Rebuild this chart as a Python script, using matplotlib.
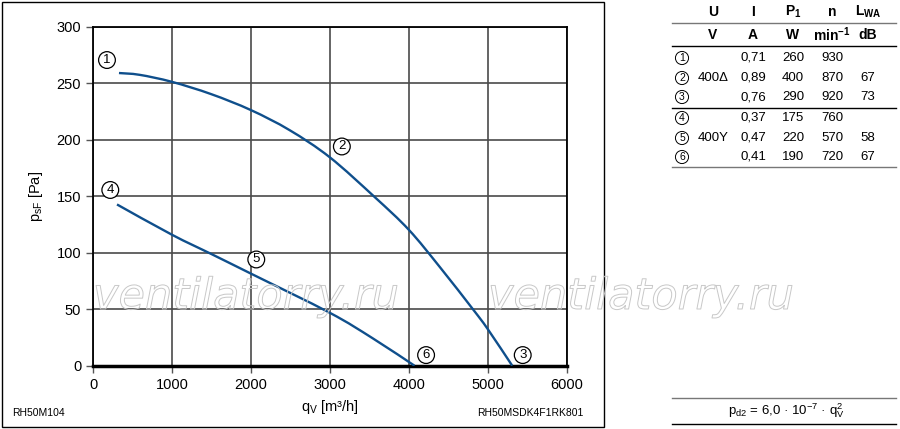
import matplotlib
matplotlib.use('Agg')
import matplotlib.pyplot as plt
import matplotlib.patheffects as pe
from matplotlib.patches import Rectangle, PathPatch
from matplotlib.path import Path

plt.rcParams['font.family'] = ['Liberation Sans', 'DejaVu Sans']
plt.rcParams['mathtext.fontset'] = 'custom'
plt.rcParams['mathtext.rm'] = 'Liberation Sans'
plt.rcParams['mathtext.it'] = 'Liberation Sans:italic'
plt.rcParams['mathtext.bf'] = 'Liberation Sans:bold'

# curve 1-2-3 (400 delta)
q_delta = [329, 591, 1000, 1498, 2000, 2489, 3000, 3570, 4000, 4392, 4814, 5000, 5310]
p_delta = [259, 257.4, 251.2, 240.3, 226.2, 208.5, 184.4, 149.1, 120.3, 87.4, 49.8, 32.4, 0]

# curve 4-5-6 (400 Y)
q_star = [304, 1000, 1500, 2000, 3000, 3544, 4072]
p_star = [142.7, 115.9, 98.8, 81.5, 46.8, 24.2, 0]

# operating point labels
pt_labels = ['1', '2', '3', '4', '5', '6']
pt_q = [177, 3152, 5443, 219, 2068, 4219]
pt_p = [270.5, 194, 9.4, 155.5, 94, 9.4]

# table
col_head = ['U', 'I', 'P$_\\mathregular{1}$', 'n', 'L$_\\mathregular{WA}$']
col_unit = ['V', 'A', 'W', 'min$^\\mathregular{-1}$', 'dB']
tbl_U = ['', '400Δ', '', '', '400Y', '']
tbl_I = ['0,71', '0,89', '0,76', '0,37', '0,47', '0,41']
tbl_P = ['260', '400', '290', '175', '220', '190']
tbl_n = ['930', '870', '920', '760', '570', '720']
tbl_L = ['', '67', '73', '', '58', '67']

W, H = 900, 429
fig = plt.figure(figsize=(W / 100, H / 100), dpi=100)


def fx(x):
    return x / W


def fy(y):
    return 1 - y / H


def smooth_path(xs, ys):
    # catmull-rom through the read points, as cubic bezier segments
    pts = list(zip(xs, ys))
    verts = [pts[0]]
    codes = [Path.MOVETO]
    n = len(pts)
    for i in range(n - 1):
        p0 = pts[max(i - 1, 0)]
        p1 = pts[i]
        p2 = pts[i + 1]
        p3 = pts[min(i + 2, n - 1)]
        c1 = (p1[0] + (p2[0] - p0[0]) / 6, p1[1] + (p2[1] - p0[1]) / 6)
        c2 = (p2[0] - (p3[0] - p1[0]) / 6, p2[1] - (p3[1] - p1[1]) / 6)
        verts += [c1, c2, p2]
        codes += [Path.CURVE4] * 3
    return Path(verts, codes)


# outer frame around the chart
fig.patches.append(Rectangle((fx(2), fy(427)), fx(602), 425 / H, transform=fig.transFigure,
                             fill=False, edgecolor='black', linewidth=1))

ax = fig.add_axes([fx(93), fy(365.7), fx(566.7 - 93), (365.7 - 26.7) / H])
ax.set_xlim(0, 6000)
ax.set_ylim(0, 300)
ax.set_xticks(range(0, 6001, 1000))
ax.set_yticks(range(0, 301, 50))
ax.tick_params(labelsize=10.5, length=5, width=1, direction='out', color='#555555')
ax.grid(True, color='#4a4a4a', linewidth=1.2)
for s in ax.spines.values():
    s.set_linewidth(1.3)
ax.spines['bottom'].set_linewidth(2.5)

for qs, ps in [(q_delta, p_delta), (q_star, p_star)]:
    ax.add_patch(PathPatch(smooth_path(qs, ps), facecolor='none', edgecolor='#0f4f8c',
                           linewidth=1.7, zorder=4, capstyle='butt'))

for lab, q, p in zip(pt_labels, pt_q, pt_p):
    ax.text(q, p, lab, fontsize=9.5, ha='center', va='center', zorder=6,
            bbox=dict(boxstyle='circle,pad=0.18', facecolor='white', edgecolor='black', linewidth=0.9))

ax.set_xlabel('q$_\\mathregular{V}$ [m³/h]', fontsize=10.5, labelpad=5)
ax.set_ylabel('p$_\\mathregular{sF}$ [Pa]', fontsize=10.5, labelpad=8)

# watermark (outlined text only)
for x0 in (93, 488):
    t = fig.text(fx(x0), fy(309), 'ventilatorry.ru', fontsize=31, style='italic',
                 family='DejaVu Sans', color='none', ha='left', va='baseline', zorder=3)
    t.set_path_effects([pe.Stroke(linewidth=0.7, foreground='#c8c8c8')])

fig.text(fx(12), fy(413), 'RH50M104', fontsize=7.5, ha='left', va='center')
fig.text(fx(584), fy(413), 'RH50MSDK4F1RK801', fontsize=7.5, ha='right', va='center')

# table on the right
col_x = [713, 753, 793, 832, 868]
for cx, h, u in zip(col_x, col_head, col_unit):
    fig.text(fx(cx), fy(12), h, fontsize=10, fontweight='bold', ha='center', va='center')
    fig.text(fx(cx), fy(35), u, fontsize=10, fontweight='bold', ha='center', va='center')

row_y = [58, 78, 97, 118, 138, 157]
for i, ry in enumerate(row_y):
    fig.text(fx(682), fy(ry), pt_labels[i], fontsize=7.5, ha='center', va='center',
             bbox=dict(boxstyle='circle,pad=0.15', facecolor='white', edgecolor='black', linewidth=0.7))
    for cx, col in zip(col_x, [tbl_U, tbl_I, tbl_P, tbl_n, tbl_L]):
        fig.text(fx(cx), fy(ry), col[i], fontsize=9.5, ha='center', va='center')

for ly, lc in [(23, '#777777'), (46, 'black'), (108, 'black'), (167, '#777777'),
               (398, '#777777'), (424, 'black')]:
    fig.add_artist(plt.Line2D([fx(672), fx(896)], [fy(ly), fy(ly)], transform=fig.transFigure,
                              color=lc, linewidth=1))

fig.text(fx(786), fy(411), 'p$_\\mathregular{d2}$ = 6,0 · 10$^\\mathregular{-7}$ · q$_\\mathregular{V}^\\mathregular{2}$',
         fontsize=9.5, ha='center', va='center')

fig.savefig('out.png', dpi=100, facecolor='white')
